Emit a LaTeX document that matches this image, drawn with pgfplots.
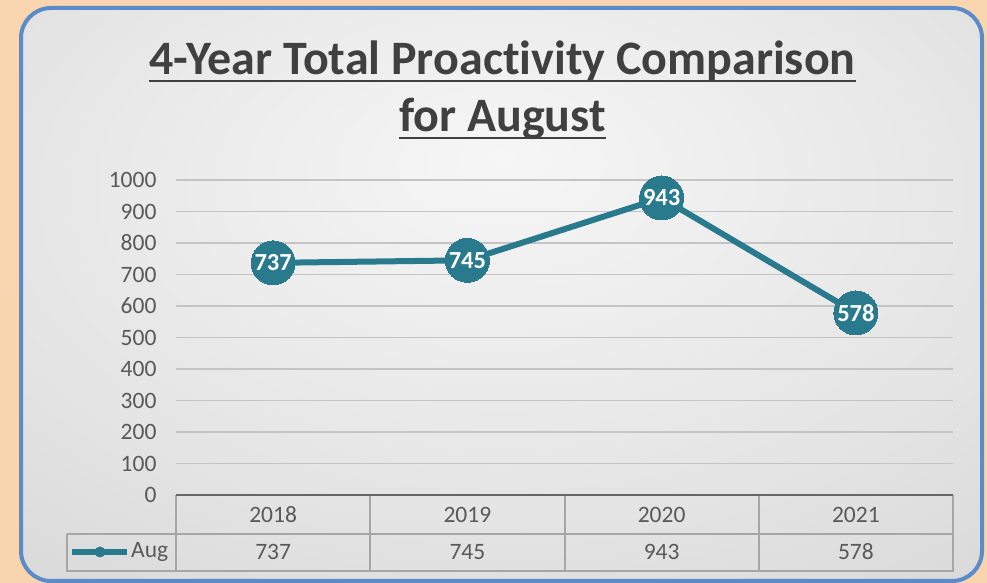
\documentclass[border=0pt]{standalone}
\usepackage{fontspec}
\setmainfont{Carlito}[Ligatures=CommonOff]
\usepackage{pgfplots}
\pgfplotsset{compat=1.18}
\definecolor{peachA}{HTML}{FCE5CC}
\definecolor{peachB}{HTML}{F7C792}
\definecolor{panelborder}{HTML}{5B8BC9}
\definecolor{pA}{HTML}{F6F6F6}
\definecolor{pB}{HTML}{E4E4E4}
\definecolor{pC}{HTML}{CDCDCD}
\definecolor{teal}{HTML}{2A7A8E}
\definecolor{txt}{HTML}{595959}
\definecolor{ttl}{HTML}{404040}
\definecolor{gridc}{HTML}{C4C4C4}
\definecolor{tabc}{HTML}{A6A6A6}
\pgfdeclareradialshading{panel}{\pgfpoint{0bp}{12bp}}{color(0bp)=(pA); color(28bp)=(pB); color(55bp)=(pC); color(90bp)=(pC)}
\begin{document}
\begin{tikzpicture}[x=1pt,y=1pt]
% outer background
\shade[left color=peachB, right color=peachA, shading angle=0] (0,0) rectangle (987,583);
\shade[top color=peachA, bottom color=peachB, opacity=0.5] (0,0) rectangle (987,583);
% panel
\shade[shading=panel, rounded corners=30pt] (21,2) rectangle (982,575);
\draw[panelborder, line width=4pt, rounded corners=30pt] (21,2) rectangle (982,575);
% title
\node[inner sep=0pt, anchor=base, text=ttl, font=\bfseries\fontsize{48}{52}\selectfont] (t1) at (502.5,583-75) {4-Year Total Proactivity Comparison};
\draw[ttl, line width=2.5pt] ([yshift=-6pt]t1.base west) -- ([yshift=-6pt]t1.base east);
\node[inner sep=0pt, anchor=base, text=ttl, font=\bfseries\fontsize{48}{52}\selectfont] (t2) at (502.5,583-132) {for August};
\draw[ttl, line width=2.5pt] ([yshift=-6pt]t2.base west) -- ([yshift=-6pt]t2.base east);
% data table frame
\draw[tabc, line width=2pt] (176,583-495) -- (176,583-571) -- (953,583-571) -- (953,583-495);
\draw[tabc, line width=2pt] (67,583-534) -- (953,583-534);
\draw[tabc, line width=2pt] (67,583-534) -- (67,583-571) -- (176,583-571);
\foreach \xx in {370,565,759}{\draw[tabc, line width=2pt] (\xx,583-495) -- (\xx,583-571);}
% legend key
\draw[teal, line width=6pt] (72,583-552) -- (127,583-552);
\fill[teal] (100,583-552) circle (5.5pt);
\node[anchor=west, inner sep=0pt, text=txt, font=\fontsize{23.5}{26}\selectfont] at (131,583-552) {Aug};
\begin{axis}[
  at={(176pt,88pt)}, anchor=south west,
  scale only axis, width=777pt, height=315pt,
  xmin=0, xmax=4, ymin=0, ymax=1000,
  xtick={0.5,1.5,2.5,3.5},
  xticklabels={2018,2019,2020,2021},
  ytick={0,100,...,1000},
  axis line style={draw=none},
  tick style={draw=none},
  ymajorgrids,
  grid style={gridc, line width=1.6pt},
  clip=false,
  /pgf/number format/assume math mode=true,
  /pgf/number format/1000 sep={},
  ticklabel style={text=txt, font=\fontsize{23.5}{26}\selectfont},
  yticklabel style={anchor=east, xshift=-16pt},
  xticklabel style={anchor=center, yshift=-20pt},
  nodes near coords,
  every node near coord/.append style={anchor=center, text=white, font=\bfseries\fontsize{24.5}{26}\selectfont, /pgf/number format/assume math mode=true},
]
\draw[gray!80!black, line width=2pt] (rel axis cs:0,0) -- (rel axis cs:1,0);
\addplot[teal, line width=6pt, mark=*, mark size=22pt, mark options={fill=teal, draw=teal, line width=0pt}] coordinates {(0.5,737) (1.5,745) (2.5,943) (3.5,578)};
\foreach \xv/\val in {0.5/737,1.5/745,2.5/943,3.5/578}{
  \edef\tmp{\noexpand\node[text=txt, font=\noexpand\fontsize{23.5}{26}\noexpand\selectfont] at (axis cs:\xv,0) [yshift=-57pt] {\val};}\tmp
}
\end{axis}
\end{tikzpicture}
\end{document}
